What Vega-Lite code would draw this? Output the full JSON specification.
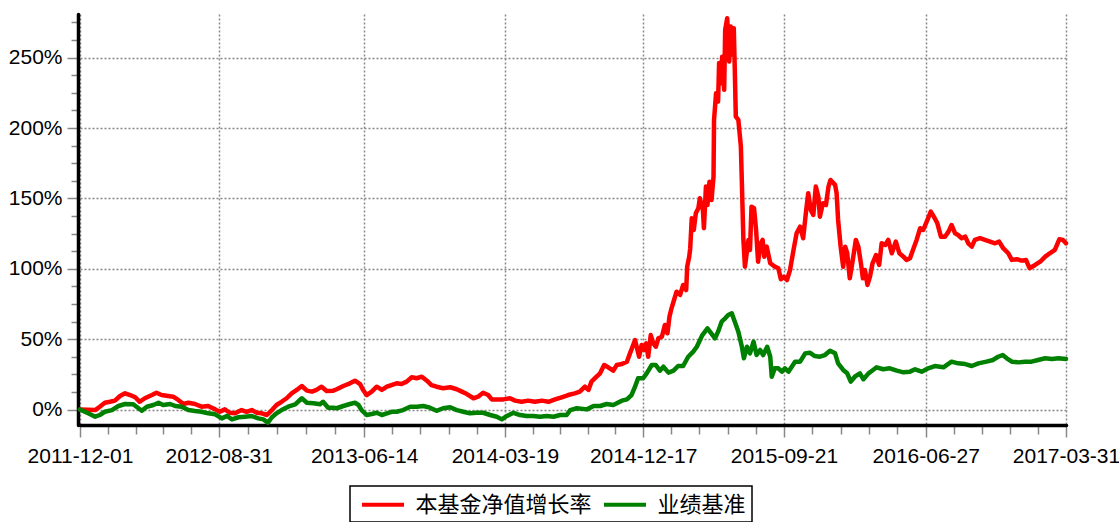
{
  "$schema": "https://vega.github.io/schema/vega-lite/v6.json",
  "autosize": {"type": "none"},
  "width": 986,
  "height": 411,
  "padding": {"left": 80, "top": 14, "right": 53, "bottom": 97},
  "background": "#ffffff",
  "config": {"view": {"stroke": null}, "legend": {"strokeWidth": 1.5}},
  "data": {
    "format": {"parse": {"date": "date:'%Y-%j'"}},
    "values": [
      {"series":"本基金净值增长率","date":"2011-335","value":0},{"series":"本基金净值增长率","date":"2011-365","value":-0.004},{"series":"本基金净值增长率","date":"2012-009","value":0.020},{"series":"本基金净值增长率","date":"2012-019","value":0.048},{"series":"本基金净值增长率","date":"2012-029","value":0.055},{"series":"本基金净值增长率","date":"2012-039","value":0.063},{"series":"本基金净值增长率","date":"2012-049","value":0.096},{"series":"本基金净值增长率","date":"2012-059","value":0.115},{"series":"本基金净值增长率","date":"2012-069","value":0.103},{"series":"本基金净值增长率","date":"2012-079","value":0.087},{"series":"本基金净值增长率","date":"2012-088","value":0.055},{"series":"本基金净值增长率","date":"2012-098","value":0.080},{"series":"本基金净值增长率","date":"2012-112","value":0.103},{"series":"本基金净值增长率","date":"2012-121","value":0.119},{"series":"本基金净值增长率","date":"2012-131","value":0.103},{"series":"本基金净值增长率","date":"2012-144","value":0.096},{"series":"本基金净值增长率","date":"2012-154","value":0.091},{"series":"本基金净值增长率","date":"2012-164","value":0.068},{"series":"本基金净值增长率","date":"2012-174","value":0.039},{"series":"本基金净值增长率","date":"2012-184","value":0.048},{"series":"本基金净值增长率","date":"2012-197","value":0.039},{"series":"本基金净值增长率","date":"2012-210","value":0.020},{"series":"本基金净值增长率","date":"2012-223","value":0.025},{"series":"本基金净值增长率","date":"2012-237","value":0.001},{"series":"本基金净值增长率","date":"2012-246","value":-0.016},{"series":"本基金净值增长率","date":"2012-256","value":0.001},{"series":"本基金净值增长率","date":"2012-266","value":-0.023},{"series":"本基金净值增长率","date":"2012-276","value":-0.027},{"series":"本基金净值增长率","date":"2012-289","value":-0.004},{"series":"本基金净值增长率","date":"2012-299","value":-0.016},{"series":"本基金净值增长率","date":"2012-309","value":-0.004},{"series":"本基金净值增长率","date":"2012-319","value":-0.023},{"series":"本基金净值增长率","date":"2012-329","value":-0.027},{"series":"本基金净值增长率","date":"2012-339","value":-0.039},{"series":"本基金净值增长率","date":"2012-349","value":-0.004},{"series":"本基金净值增长率","date":"2012-358","value":0.032},{"series":"本基金净值增长率","date":"2013-002","value":0.055},{"series":"本基金净值增长率","date":"2013-012","value":0.080},{"series":"本基金净值增长率","date":"2013-022","value":0.115},{"series":"本基金净值增长率","date":"2013-032","value":0.139},{"series":"本基金净值增长率","date":"2013-042","value":0.167},{"series":"本基金净值增长率","date":"2013-052","value":0.134},{"series":"本基金净值增长率","date":"2013-062","value":0.127},{"series":"本基金净值增长率","date":"2013-071","value":0.139},{"series":"本基金净值增长率","date":"2013-081","value":0.162},{"series":"本基金净值增长率","date":"2013-091","value":0.131},{"series":"本基金净值增长率","date":"2013-104","value":0.134},{"series":"本基金净值增长率","date":"2013-111","value":0.144},{"series":"本基金净值增长率","date":"2013-124","value":0.167},{"series":"本基金净值增长率","date":"2013-137","value":0.186},{"series":"本基金净值增长率","date":"2013-147","value":0.205},{"series":"本基金净值增长率","date":"2013-157","value":0.181},{"series":"本基金净值增长率","date":"2013-163","value":0.139},{"series":"本基金净值增长率","date":"2013-170","value":0.103},{"series":"本基金净值增长率","date":"2013-180","value":0.127},{"series":"本基金净值增长率","date":"2013-190","value":0.162},{"series":"本基金净值增长率","date":"2013-200","value":0.139},{"series":"本基金净值增长率","date":"2013-210","value":0.162},{"series":"本基金净值增长率","date":"2013-219","value":0.174},{"series":"本基金净值增长率","date":"2013-229","value":0.186},{"series":"本基金净值增长率","date":"2013-239","value":0.181},{"series":"本基金净值增长率","date":"2013-249","value":0.198},{"series":"本基金净值增长率","date":"2013-259","value":0.229},{"series":"本基金净值增长率","date":"2013-269","value":0.222},{"series":"本基金净值增长率","date":"2013-279","value":0.233},{"series":"本基金净值增长率","date":"2013-289","value":0.205},{"series":"本基金净值增长率","date":"2013-298","value":0.174},{"series":"本基金净值增长率","date":"2013-308","value":0.162},{"series":"本基金净值增长率","date":"2013-321","value":0.151},{"series":"本基金净值增长率","date":"2013-335","value":0.158},{"series":"本基金净值增长率","date":"2013-348","value":0.144},{"series":"本基金净值增长率","date":"2013-358","value":0.127},{"series":"本基金净值增长率","date":"2014-003","value":0.110},{"series":"本基金净值增长率","date":"2014-016","value":0.080},{"series":"本基金净值增长率","date":"2014-025","value":0.091},{"series":"本基金净值增长率","date":"2014-035","value":0.119},{"series":"本基金净值增长率","date":"2014-045","value":0.103},{"series":"本基金净值增长率","date":"2014-052","value":0.072},{"series":"本基金净值增长率","date":"2014-062","value":0.072},{"series":"本基金净值增长率","date":"2014-075","value":0.072},{"series":"本基金净值增长率","date":"2014-088","value":0.080},{"series":"本基金净值增长率","date":"2014-098","value":0.063},{"series":"本基金净值增长率","date":"2014-111","value":0.055},{"series":"本基金净值增长率","date":"2014-124","value":0.063},{"series":"本基金净值增长率","date":"2014-137","value":0.055},{"series":"本基金净值增长率","date":"2014-151","value":0.063},{"series":"本基金净值增长率","date":"2014-164","value":0.055},{"series":"本基金净值增长率","date":"2014-177","value":0.072},{"series":"本基金净值增长率","date":"2014-190","value":0.087},{"series":"本基金净值增长率","date":"2014-203","value":0.103},{"series":"本基金净值增长率","date":"2014-216","value":0.115},{"series":"本基金净值增长率","date":"2014-226","value":0.127},{"series":"本基金净值增长率","date":"2014-236","value":0.162},{"series":"本基金净值增长率","date":"2014-243","value":0.139},{"series":"本基金净值增长率","date":"2014-249","value":0.198},{"series":"本基金净值增长率","date":"2014-259","value":0.233},{"series":"本基金净值增长率","date":"2014-266","value":0.257},{"series":"本基金净值增长率","date":"2014-274","value":0.316},{"series":"本基金净值增长率","date":"2014-282","value":0.300},{"series":"本基金净值增长率","date":"2014-292","value":0.276},{"series":"本基金净值增长率","date":"2014-299","value":0.316},{"series":"本基金净值增长率","date":"2014-309","value":0.323},{"series":"本基金净值增长率","date":"2014-319","value":0.340},{"series":"本基金净值增长率","date":"2014-325","value":0.399},{"series":"本基金净值增长率","date":"2014-330","value":0.446},{"series":"本基金净值增长率","date":"2014-335","value":0.494},{"series":"本基金净值增长率","date":"2014-339","value":0.435},{"series":"本基金净值增长率","date":"2014-343","value":0.375},{"series":"本基金净值增长率","date":"2014-348","value":0.458},{"series":"本基金净值增长率","date":"2014-353","value":0.423},{"series":"本基金净值增长率","date":"2014-357","value":0.470},{"series":"本基金净值增长率","date":"2014-361","value":0.375},{"series":"本基金净值增长率","date":"2015-001","value":0.529},{"series":"本基金净值增长率","date":"2015-006","value":0.470},{"series":"本基金净值增长率","date":"2015-011","value":0.446},{"series":"本基金净值增长率","date":"2015-016","value":0.506},{"series":"本基金净值增长率","date":"2015-023","value":0.517},{"series":"本基金净值增长率","date":"2015-029","value":0.601},{"series":"本基金净值增长率","date":"2015-034","value":0.542},{"series":"本基金净值增长率","date":"2015-038","value":0.660},{"series":"本基金净值增长率","date":"2015-042","value":0.719},{"series":"本基金净值增长率","date":"2015-047","value":0.778},{"series":"本基金净值增长率","date":"2015-052","value":0.837},{"series":"本基金净值增长率","date":"2015-059","value":0.814},{"series":"本基金净值增长率","date":"2015-065","value":0.885},{"series":"本基金净值增长率","date":"2015-071","value":0.849},{"series":"本基金净值增长率","date":"2015-073","value":1.015},{"series":"本基金净值增长率","date":"2015-077","value":1.086},{"series":"本基金净值增长率","date":"2015-079","value":1.146},{"series":"本基金净值增长率","date":"2015-082","value":1.359},{"series":"本基金净值增长率","date":"2015-086","value":1.276},{"series":"本基金净值增长率","date":"2015-090","value":1.394},{"series":"本基金净值增长率","date":"2015-095","value":1.430},{"series":"本基金净值增长率","date":"2015-098","value":1.501},{"series":"本基金净值增长率","date":"2015-104","value":1.418},{"series":"本基金净值增长率","date":"2015-106","value":1.288},{"series":"本基金净值增长率","date":"2015-110","value":1.584},{"series":"本基金净值增长率","date":"2015-113","value":1.453},{"series":"本基金净值增长率","date":"2015-117","value":1.619},{"series":"本基金净值增长率","date":"2015-121","value":1.489},{"series":"本基金净值增长率","date":"2015-125","value":1.655},{"series":"本基金净值增长率","date":"2015-126","value":2.058},{"series":"本基金净值增长率","date":"2015-130","value":2.247},{"series":"本基金净值增长率","date":"2015-134","value":2.188},{"series":"本基金净值增长率","date":"2015-136","value":2.461},{"series":"本基金净值增长率","date":"2015-139","value":2.318},{"series":"本基金净值增长率","date":"2015-142","value":2.507},{"series":"本基金净值增长率","date":"2015-146","value":2.271},{"series":"本基金净值增长率","date":"2015-148","value":2.697},{"series":"本基金净值增长率","date":"2015-152","value":2.780},{"series":"本基金净值增长率","date":"2015-156","value":2.472},{"series":"本基金净值增长率","date":"2015-159","value":2.721},{"series":"本基金净值增长率","date":"2015-163","value":2.520},{"series":"本基金净值增长率","date":"2015-165","value":2.709},{"series":"本基金净值增长率","date":"2015-167","value":2.413},{"series":"本基金净值增长率","date":"2015-169","value":2.081},{"series":"本基金净值增长率","date":"2015-174","value":2.058},{"series":"本基金净值增长率","date":"2015-179","value":1.868},{"series":"本基金净值增长率","date":"2015-181","value":1.608},{"series":"本基金净值增长率","date":"2015-182","value":1.466},{"series":"本基金净值增长率","date":"2015-184","value":1.205},{"series":"本基金净值增长率","date":"2015-187","value":1.015},{"series":"本基金净值增长率","date":"2015-194","value":1.205},{"series":"本基金净值增长率","date":"2015-197","value":1.134},{"series":"本基金净值增长率","date":"2015-200","value":1.441},{"series":"本基金净值增长率","date":"2015-205","value":1.430},{"series":"本基金净值增长率","date":"2015-209","value":1.276},{"series":"本基金净值增长率","date":"2015-213","value":1.050},{"series":"本基金净值增长率","date":"2015-218","value":1.181},{"series":"本基金净值增长率","date":"2015-222","value":1.205},{"series":"本基金净值增长率","date":"2015-225","value":1.086},{"series":"本基金净值增长率","date":"2015-230","value":1.157},{"series":"本基金净值增长率","date":"2015-237","value":1.039},{"series":"本基金净值增长率","date":"2015-246","value":1.015},{"series":"本基金净值增长率","date":"2015-253","value":1.004},{"series":"本基金净值增长率","date":"2015-258","value":0.925},{"series":"本基金净值增长率","date":"2015-264","value":0.944},{"series":"本基金净值增长率","date":"2015-270","value":0.920},{"series":"本基金净值增长率","date":"2015-276","value":0.991},{"series":"本基金净值增长率","date":"2015-283","value":1.134},{"series":"本基金净值增长率","date":"2015-289","value":1.252},{"series":"本基金净值增长率","date":"2015-296","value":1.299},{"series":"本基金净值增长率","date":"2015-302","value":1.217},{"series":"本基金净值增长率","date":"2015-308","value":1.418},{"series":"本基金净值增长率","date":"2015-312","value":1.537},{"series":"本基金净值增长率","date":"2015-317","value":1.418},{"series":"本基金净值增长率","date":"2015-322","value":1.382},{"series":"本基金净值增长率","date":"2015-327","value":1.584},{"series":"本基金净值增长率","date":"2015-332","value":1.512},{"series":"本基金净值增长率","date":"2015-335","value":1.370},{"series":"本基金净值增长率","date":"2015-341","value":1.466},{"series":"本基金净值增长率","date":"2015-347","value":1.453},{"series":"本基金净值增长率","date":"2015-352","value":1.584},{"series":"本基金净值增长率","date":"2015-356","value":1.631},{"series":"本基金净值增长率","date":"2015-365","value":1.596},{"series":"本基金净值增长率","date":"2016-003","value":1.537},{"series":"本基金净值增长率","date":"2016-006","value":1.347},{"series":"本基金净值增长率","date":"2016-011","value":1.157},{"series":"本基金净值增长率","date":"2016-016","value":1.015},{"series":"本基金净值增长率","date":"2016-020","value":1.157},{"series":"本基金净值增长率","date":"2016-024","value":1.110},{"series":"本基金净值增长率","date":"2016-029","value":0.932},{"series":"本基金净值增长率","date":"2016-035","value":1.063},{"series":"本基金净值增长率","date":"2016-041","value":1.205},{"series":"本基金净值增长率","date":"2016-046","value":1.157},{"series":"本基金净值增长率","date":"2016-051","value":1.039},{"series":"本基金净值增长率","date":"2016-055","value":0.932},{"series":"本基金净值增长率","date":"2016-059","value":0.991},{"series":"本基金净值增长率","date":"2016-064","value":0.885},{"series":"本基金净值增长率","date":"2016-069","value":0.944},{"series":"本基金净值增长率","date":"2016-074","value":1.039},{"series":"本基金净值增长率","date":"2016-081","value":1.098},{"series":"本基金净值增长率","date":"2016-087","value":1.027},{"series":"本基金净值增长率","date":"2016-092","value":1.181},{"series":"本基金净值增长率","date":"2016-099","value":1.169},{"series":"本基金净值增长率","date":"2016-105","value":1.205},{"series":"本基金净值增长率","date":"2016-112","value":1.110},{"series":"本基金净值增长率","date":"2016-120","value":1.193},{"series":"本基金净值增长率","date":"2016-127","value":1.110},{"series":"本基金净值增长率","date":"2016-135","value":1.086},{"series":"本基金净值增长率","date":"2016-141","value":1.063},{"series":"本基金净值增长率","date":"2016-148","value":1.075},{"series":"本基金净值增长率","date":"2016-155","value":1.146},{"series":"本基金净值增长率","date":"2016-161","value":1.205},{"series":"本基金净值增长率","date":"2016-168","value":1.288},{"series":"本基金净值增长率","date":"2016-174","value":1.276},{"series":"本基金净值增长率","date":"2016-181","value":1.335},{"series":"本基金净值增长率","date":"2016-189","value":1.406},{"series":"本基金净值增长率","date":"2016-195","value":1.370},{"series":"本基金净值增长率","date":"2016-202","value":1.323},{"series":"本基金净值增长率","date":"2016-209","value":1.228},{"series":"本基金净值增长率","date":"2016-217","value":1.228},{"series":"本基金净值增长率","date":"2016-224","value":1.264},{"series":"本基金净值增长率","date":"2016-230","value":1.311},{"series":"本基金净值增长率","date":"2016-237","value":1.252},{"series":"本基金净值增长率","date":"2016-243","value":1.240},{"series":"本基金净值增长率","date":"2016-250","value":1.217},{"series":"本基金净值增长率","date":"2016-257","value":1.228},{"series":"本基金净值增长率","date":"2016-263","value":1.181},{"series":"本基金净值增长率","date":"2016-270","value":1.157},{"series":"本基金净值增长率","date":"2016-276","value":1.205},{"series":"本基金净值增长率","date":"2016-286","value":1.217},{"series":"本基金净值增长率","date":"2016-296","value":1.205},{"series":"本基金净值增长率","date":"2016-306","value":1.193},{"series":"本基金净值增长率","date":"2016-316","value":1.181},{"series":"本基金净值增长率","date":"2016-324","value":1.193},{"series":"本基金净值增长率","date":"2016-332","value":1.146},{"series":"本基金净值增长率","date":"2016-342","value":1.110},{"series":"本基金净值增长率","date":"2016-349","value":1.063},{"series":"本基金净值增长率","date":"2016-359","value":1.068},{"series":"本基金净值增长率","date":"2017-002","value":1.058},{"series":"本基金净值增长率","date":"2017-011","value":1.063},{"series":"本基金净值增长率","date":"2017-018","value":1.004},{"series":"本基金净值增长率","date":"2017-029","value":1.027},{"series":"本基金净值增长率","date":"2017-039","value":1.050},{"series":"本基金净值增长率","date":"2017-049","value":1.086},{"series":"本基金净值增长率","date":"2017-058","value":1.110},{"series":"本基金净值增长率","date":"2017-068","value":1.134},{"series":"本基金净值增长率","date":"2017-077","value":1.210},{"series":"本基金净值增长率","date":"2017-084","value":1.205},{"series":"本基金净值增长率","date":"2017-090","value":1.181},
      {"series":"业绩基准","date":"2011-335","value":0},{"series":"业绩基准","date":"2011-351","value":-0.027},{"series":"业绩基准","date":"2011-365","value":-0.051},{"series":"业绩基准","date":"2012-009","value":-0.039},{"series":"业绩基准","date":"2012-019","value":-0.016},{"series":"业绩基准","date":"2012-033","value":-0.004},{"series":"业绩基准","date":"2012-046","value":0.025},{"series":"业绩基准","date":"2012-059","value":0.039},{"series":"业绩基准","date":"2012-075","value":0.037},{"series":"业绩基准","date":"2012-092","value":-0.009},{"series":"业绩基准","date":"2012-102","value":0.020},{"series":"业绩基准","date":"2012-115","value":0.032},{"series":"业绩基准","date":"2012-125","value":0.048},{"series":"业绩基准","date":"2012-134","value":0.032},{"series":"业绩基准","date":"2012-148","value":0.039},{"series":"业绩基准","date":"2012-158","value":0.025},{"series":"业绩基准","date":"2012-171","value":0.020},{"series":"业绩基准","date":"2012-184","value":-0.004},{"series":"业绩基准","date":"2012-197","value":-0.011},{"series":"业绩基准","date":"2012-210","value":-0.016},{"series":"业绩基准","date":"2012-223","value":-0.027},{"series":"业绩基准","date":"2012-237","value":-0.034},{"series":"业绩基准","date":"2012-250","value":-0.063},{"series":"业绩基准","date":"2012-260","value":-0.046},{"series":"业绩基准","date":"2012-270","value":-0.070},{"series":"业绩基准","date":"2012-283","value":-0.055},{"series":"业绩基准","date":"2012-296","value":-0.051},{"series":"业绩基准","date":"2012-309","value":-0.046},{"series":"业绩基准","date":"2012-322","value":-0.063},{"series":"业绩基准","date":"2012-332","value":-0.070},{"series":"业绩基准","date":"2012-341","value":-0.094},{"series":"业绩基准","date":"2012-349","value":-0.055},{"series":"业绩基准","date":"2012-358","value":-0.027},{"series":"业绩基准","date":"2013-002","value":-0.004},{"series":"业绩基准","date":"2013-015","value":0.020},{"series":"业绩基准","date":"2013-029","value":0.037},{"series":"业绩基准","date":"2013-042","value":0.080},{"series":"业绩基准","date":"2013-052","value":0.048},{"series":"业绩基准","date":"2013-065","value":0.044},{"series":"业绩基准","date":"2013-078","value":0.037},{"series":"业绩基准","date":"2013-084","value":0.055},{"series":"业绩基准","date":"2013-094","value":0.013},{"series":"业绩基准","date":"2013-104","value":0.013},{"series":"业绩基准","date":"2013-111","value":0.009},{"series":"业绩基准","date":"2013-124","value":0.025},{"series":"业绩基准","date":"2013-137","value":0.039},{"series":"业绩基准","date":"2013-147","value":0.048},{"series":"业绩基准","date":"2013-154","value":0.032},{"series":"业绩基准","date":"2013-160","value":-0.004},{"series":"业绩基准","date":"2013-170","value":-0.039},{"series":"业绩基准","date":"2013-180","value":-0.032},{"series":"业绩基准","date":"2013-190","value":-0.023},{"series":"业绩基准","date":"2013-200","value":-0.039},{"series":"业绩基准","date":"2013-210","value":-0.027},{"series":"业绩基准","date":"2013-219","value":-0.016},{"series":"业绩基准","date":"2013-229","value":-0.016},{"series":"业绩基准","date":"2013-242","value":-0.004},{"series":"业绩基准","date":"2013-256","value":0.020},{"series":"业绩基准","date":"2013-269","value":0.020},{"series":"业绩基准","date":"2013-282","value":0.025},{"series":"业绩基准","date":"2013-295","value":0.013},{"series":"业绩基准","date":"2013-308","value":-0.009},{"series":"业绩基准","date":"2013-321","value":0.009},{"series":"业绩基准","date":"2013-335","value":0.016},{"series":"业绩基准","date":"2013-348","value":-0.004},{"series":"业绩基准","date":"2013-361","value":-0.016},{"series":"业绩基准","date":"2014-009","value":-0.027},{"series":"业绩基准","date":"2014-022","value":-0.023},{"series":"业绩基准","date":"2014-035","value":-0.023},{"series":"业绩基准","date":"2014-049","value":-0.039},{"series":"业绩基准","date":"2014-062","value":-0.051},{"series":"业绩基准","date":"2014-072","value":-0.070},{"series":"业绩基准","date":"2014-082","value":-0.046},{"series":"业绩基准","date":"2014-095","value":-0.023},{"series":"业绩基准","date":"2014-108","value":-0.039},{"series":"业绩基准","date":"2014-121","value":-0.046},{"series":"业绩基准","date":"2014-134","value":-0.046},{"series":"业绩基准","date":"2014-147","value":-0.051},{"series":"业绩基准","date":"2014-161","value":-0.046},{"series":"业绩基准","date":"2014-174","value":-0.051},{"series":"业绩基准","date":"2014-187","value":-0.039},{"series":"业绩基准","date":"2014-200","value":-0.039},{"series":"业绩基准","date":"2014-207","value":-0.004},{"series":"业绩基准","date":"2014-220","value":0.009},{"series":"业绩基准","date":"2014-240","value":0.001},{"series":"业绩基准","date":"2014-253","value":0.025},{"series":"业绩基准","date":"2014-266","value":0.025},{"series":"业绩基准","date":"2014-279","value":0.039},{"series":"业绩基准","date":"2014-292","value":0.032},{"series":"业绩基准","date":"2014-299","value":0.044},{"series":"业绩基准","date":"2014-309","value":0.063},{"series":"业绩基准","date":"2014-319","value":0.072},{"series":"业绩基准","date":"2014-328","value":0.103},{"series":"业绩基准","date":"2014-335","value":0.162},{"series":"业绩基准","date":"2014-341","value":0.222},{"series":"业绩基准","date":"2014-351","value":0.222},{"series":"业绩基准","date":"2014-358","value":0.257},{"series":"业绩基准","date":"2015-003","value":0.316},{"series":"业绩基准","date":"2015-011","value":0.316},{"series":"业绩基准","date":"2015-019","value":0.276},{"series":"业绩基准","date":"2015-026","value":0.304},{"series":"业绩基准","date":"2015-036","value":0.262},{"series":"业绩基准","date":"2015-046","value":0.276},{"series":"业绩基准","date":"2015-055","value":0.309},{"series":"业绩基准","date":"2015-065","value":0.309},{"series":"业绩基准","date":"2015-075","value":0.375},{"series":"业绩基准","date":"2015-085","value":0.411},{"series":"业绩基准","date":"2015-092","value":0.446},{"series":"业绩基准","date":"2015-103","value":0.529},{"series":"业绩基准","date":"2015-113","value":0.577},{"series":"业绩基准","date":"2015-128","value":0.506},{"series":"业绩基准","date":"2015-134","value":0.553},{"series":"业绩基准","date":"2015-141","value":0.624},{"series":"业绩基准","date":"2015-148","value":0.648},{"series":"业绩基准","date":"2015-154","value":0.672},{"series":"业绩基准","date":"2015-161","value":0.684},{"series":"业绩基准","date":"2015-167","value":0.624},{"series":"业绩基准","date":"2015-174","value":0.553},{"series":"业绩基准","date":"2015-181","value":0.446},{"series":"业绩基准","date":"2015-185","value":0.364},{"series":"业绩基准","date":"2015-191","value":0.446},{"series":"业绩基准","date":"2015-197","value":0.399},{"series":"业绩基准","date":"2015-204","value":0.482},{"series":"业绩基准","date":"2015-210","value":0.387},{"series":"业绩基准","date":"2015-217","value":0.423},{"series":"业绩基准","date":"2015-223","value":0.387},{"series":"业绩基准","date":"2015-231","value":0.446},{"series":"业绩基准","date":"2015-237","value":0.375},{"series":"业绩基准","date":"2015-240","value":0.233},{"series":"业绩基准","date":"2015-246","value":0.293},{"series":"业绩基准","date":"2015-253","value":0.293},{"series":"业绩基准","date":"2015-260","value":0.269},{"series":"业绩基准","date":"2015-266","value":0.293},{"series":"业绩基准","date":"2015-273","value":0.269},{"series":"业绩基准","date":"2015-286","value":0.340},{"series":"业绩基准","date":"2015-296","value":0.340},{"series":"业绩基准","date":"2015-306","value":0.399},{"series":"业绩基准","date":"2015-315","value":0.404},{"series":"业绩基准","date":"2015-325","value":0.380},{"series":"业绩基准","date":"2015-335","value":0.375},{"series":"业绩基准","date":"2015-345","value":0.387},{"series":"业绩基准","date":"2015-355","value":0.418},{"series":"业绩基准","date":"2015-365","value":0.399},{"series":"业绩基准","date":"2016-006","value":0.328},{"series":"业绩基准","date":"2016-016","value":0.281},{"series":"业绩基准","date":"2016-024","value":0.257},{"series":"业绩基准","date":"2016-031","value":0.198},{"series":"业绩基准","date":"2016-039","value":0.233},{"series":"业绩基准","date":"2016-049","value":0.257},{"series":"业绩基准","date":"2016-056","value":0.215},{"series":"业绩基准","date":"2016-066","value":0.257},{"series":"业绩基准","date":"2016-075","value":0.281},{"series":"业绩基准","date":"2016-082","value":0.300},{"series":"业绩基准","date":"2016-095","value":0.286},{"series":"业绩基准","date":"2016-108","value":0.293},{"series":"业绩基准","date":"2016-122","value":0.276},{"series":"业绩基准","date":"2016-135","value":0.264},{"series":"业绩基准","date":"2016-148","value":0.269},{"series":"业绩基准","date":"2016-158","value":0.286},{"series":"业绩基准","date":"2016-171","value":0.269},{"series":"业绩基准","date":"2016-184","value":0.293},{"series":"业绩基准","date":"2016-197","value":0.309},{"series":"业绩基准","date":"2016-214","value":0.300},{"series":"业绩基准","date":"2016-230","value":0.340},{"series":"业绩基准","date":"2016-243","value":0.328},{"series":"业绩基准","date":"2016-257","value":0.323},{"series":"业绩基准","date":"2016-270","value":0.309},{"series":"业绩基准","date":"2016-283","value":0.328},{"series":"业绩基准","date":"2016-299","value":0.340},{"series":"业绩基准","date":"2016-312","value":0.352},{"series":"业绩基准","date":"2016-322","value":0.375},{"series":"业绩基准","date":"2016-331","value":0.387},{"series":"业绩基准","date":"2016-339","value":0.364},{"series":"业绩基准","date":"2016-349","value":0.340},{"series":"业绩基准","date":"2016-362","value":0.335},{"series":"业绩基准","date":"2017-009","value":0.340},{"series":"业绩基准","date":"2017-022","value":0.340},{"series":"业绩基准","date":"2017-035","value":0.352},{"series":"业绩基准","date":"2017-049","value":0.364},{"series":"业绩基准","date":"2017-062","value":0.359},{"series":"业绩基准","date":"2017-075","value":0.364},{"series":"业绩基准","date":"2017-090","value":0.359}
    ]
  },
  "mark": {"type": "line", "strokeWidth": 4.5, "strokeJoin": "round", "strokeCap": "round"},
  "encoding": {
    "x": {
      "field": "date",
      "type": "temporal",
      "scale": {"domain": [{"year": 2011, "month": 12, "date": 1}, {"year": 2017, "month": 3, "date": 31}], "nice": false},
      "axis": {
        "title": null,
        "values": [
          {"year":2011,"month":12,"date":1},{"year":2012,"month":1,"date":25},{"year":2012,"month":3,"date":20},{"year":2012,"month":5,"date":13},{"year":2012,"month":7,"date":7},
          {"year":2012,"month":8,"date":31},{"year":2012,"month":10,"date":27},{"year":2012,"month":12,"date":24},{"year":2013,"month":2,"date":19},{"year":2013,"month":4,"date":18},
          {"year":2013,"month":6,"date":14},{"year":2013,"month":8,"date":9},{"year":2013,"month":10,"date":3},{"year":2013,"month":11,"date":28},{"year":2014,"month":1,"date":22},
          {"year":2014,"month":3,"date":19},{"year":2014,"month":5,"date":13},{"year":2014,"month":7,"date":6},{"year":2014,"month":8,"date":30},{"year":2014,"month":10,"date":23},
          {"year":2014,"month":12,"date":17},{"year":2015,"month":2,"date":11},{"year":2015,"month":4,"date":7},{"year":2015,"month":6,"date":2},{"year":2015,"month":7,"date":27},
          {"year":2015,"month":9,"date":21},{"year":2015,"month":11,"date":16},{"year":2016,"month":1,"date":11},{"year":2016,"month":3,"date":7},{"year":2016,"month":5,"date":2},
          {"year":2016,"month":6,"date":27},{"year":2016,"month":8,"date":21},{"year":2016,"month":10,"date":16},{"year":2016,"month":12,"date":10},{"year":2017,"month":2,"date":4},
          {"year":2017,"month":3,"date":31}
        ],
        "format": "%Y-%m-%d",
        "labelExpr": "indexof(['2011-12-01','2012-08-31','2013-06-14','2014-03-19','2014-12-17','2015-09-21','2016-06-27','2017-03-31'], datum.label) >= 0 ? datum.label : ''",
        "labelOverlap": false,
        "labelFlush": false,
        "labelFont": "Liberation Sans",
        "labelFontSize": 21,
        "labelColor": "#000000",
        "labelPadding": 8,
        "domainColor": "#000000",
        "domainWidth": 3.5,
        "domainCap": "round",
        "tickColor": "#888888",
        "tickWidth": 1.5,
        "tickSize": {"condition": {"test": "indexof(['2011-12-01','2012-08-31','2013-06-14','2014-03-19','2014-12-17','2015-09-21','2016-06-27','2017-03-31'], timeFormat(datum.value, '%Y-%m-%d')) >= 0", "value": 12}, "value": 9},
        "grid": true,
        "gridColor": "#888888",
        "gridDash": [2, 2],
        "gridWidth": 1.5,
        "gridOpacity": {"condition": {"test": "indexof(['2011-12-01','2012-08-31','2013-06-14','2014-03-19','2014-12-17','2015-09-21','2016-06-27','2017-03-31'], timeFormat(datum.value, '%Y-%m-%d')) >= 0", "value": 1}, "value": 0}
      }
    },
    "y": {
      "field": "value",
      "type": "quantitative",
      "scale": {"domain": [-0.11, 2.81], "nice": false, "zero": false},
      "axis": {
        "title": null,
        "values": [0,0.125,0.25,0.375,0.5,0.625,0.75,0.875,1,1.125,1.25,1.375,1.5,1.625,1.75,1.875,2,2.125,2.25,2.375,2.5,2.625,2.75],
        "format": ".0%",
        "labelExpr": "datum.value % 0.5 === 0 ? datum.label : ''",
        "labelFont": "Liberation Sans",
        "labelFontSize": 21,
        "labelColor": "#000000",
        "labelPadding": 5,
        "offset": 2,
        "domainColor": "#000000",
        "domainWidth": 3.5,
        "domainCap": "round",
        "tickColor": "#888888",
        "tickWidth": 1.5,
        "tickSize": {"condition": {"test": "datum.value % 0.5 === 0", "value": 11}, "value": 7},
        "grid": true,
        "gridColor": "#888888",
        "gridDash": [2, 2],
        "gridWidth": 1.5,
        "gridOpacity": {"condition": {"test": "datum.value % 0.5 === 0", "value": 1}, "value": 0}
      }
    },
    "color": {
      "field": "series",
      "type": "nominal",
      "scale": {"domain": ["本基金净值增长率", "业绩基准"], "range": ["#ff0000", "#008000"]},
      "legend": {
        "title": null,
        "orient": "none",
        "legendX": 270,
        "legendY": 472,
        "direction": "horizontal",
        "symbolType": "M-2,0H2",
        "symbolStrokeWidth": 4,
        "symbolSize": 441,
        "symbolOffset": 14.5,
        "labelFont": "Noto Sans CJK SC",
        "labelFontSize": 22,
        "labelLimit": 400,
        "labelColor": "#000000",
        "labelOffset": 20,
        "labelExpr": "datum.value == '业绩基准' ? datum.value + '\u3000\u3000\u3000\u3000\u00a0\u00a0' : datum.value",
        "columnPadding": 4,
        "gridAlign": "each",
        "padding": 6,
        "strokeColor": "#000000",
        "fillColor": "#ffffff"
      }
    }
  }
}
